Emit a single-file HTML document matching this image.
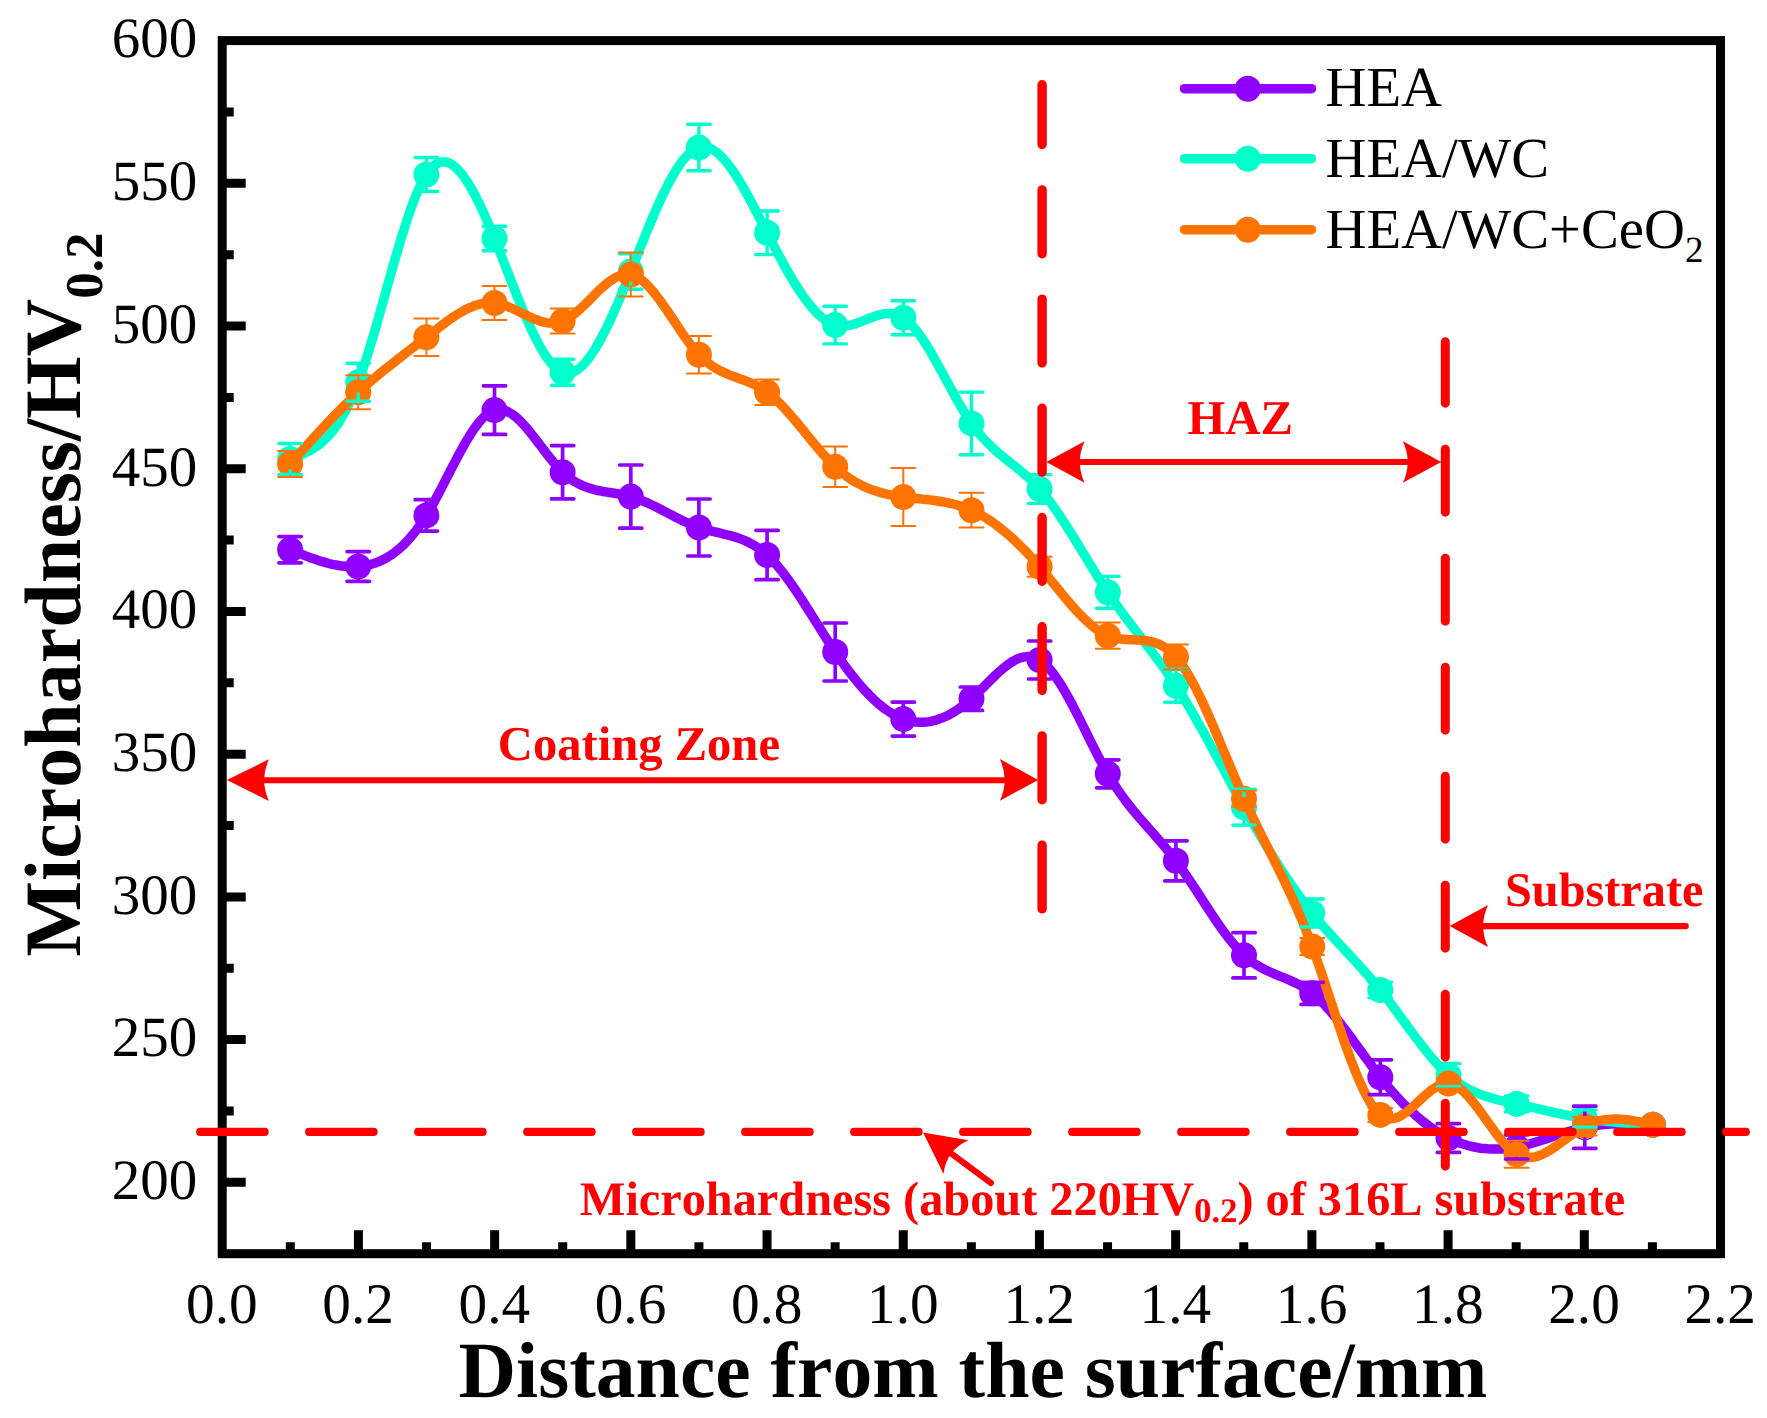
<!DOCTYPE html>
<html lang="en">
<head>
<meta charset="utf-8">
<title>Microhardness vs distance from the surface</title>
<style>
html,body{margin:0;padding:0;background:#fff;}
text{font-kerning:none;font-variant-ligatures:none;text-rendering:geometricPrecision;}
body{width:1767px;height:1418px;position:relative;overflow:hidden;font-family:"Liberation Serif",serif;}
</style>
</head>
<body>
<svg width="1767" height="1418" viewBox="0 0 1767 1418" style="position:absolute;left:0;top:0;display:block">
<rect x="0" y="0" width="1767" height="1418" fill="#fff"/>
<path d="M290.30 1253.7v-11.5M358.41 1253.7v-23.5M426.51 1253.7v-11.5M494.62 1253.7v-23.5M562.72 1253.7v-11.5M630.83 1253.7v-23.5M698.93 1253.7v-11.5M767.04 1253.7v-23.5M835.14 1253.7v-11.5M903.25 1253.7v-23.5M971.35 1253.7v-11.5M1039.45 1253.7v-23.5M1107.56 1253.7v-11.5M1175.66 1253.7v-23.5M1243.77 1253.7v-11.5M1311.87 1253.7v-23.5M1379.98 1253.7v-11.5M1448.08 1253.7v-23.5M1516.19 1253.7v-11.5M1584.29 1253.7v-23.5M1652.40 1253.7v-11.5M222.2 1182.34h23.5M222.2 1110.98h11.5M222.2 1039.62h23.5M222.2 968.26h11.5M222.2 896.91h23.5M222.2 825.55h11.5M222.2 754.19h23.5M222.2 682.83h11.5M222.2 611.47h23.5M222.2 540.11h11.5M222.2 468.75h23.5M222.2 397.39h11.5M222.2 326.04h23.5M222.2 254.68h11.5M222.2 183.32h23.5M222.2 111.96h11.5" stroke="#000" stroke-width="9" fill="none"/>
<polyline points="290.1,549.7 293.3,551.0 296.6,552.3 299.8,553.6 303.1,554.9 306.3,556.1 309.6,557.4 312.8,558.5 316.0,559.6 319.3,560.7 322.5,561.7 325.8,562.6 329.0,563.5 332.3,564.3 335.5,564.9 338.8,565.5 342.0,566.0 345.3,566.3 348.5,566.6 351.7,566.7 355.0,566.7 358.2,566.5 361.5,566.2 364.7,565.7 368.0,565.1 371.2,564.3 374.5,563.3 377.7,562.1 380.9,560.7 384.2,559.1 387.4,557.3 390.7,555.3 393.9,553.0 397.2,550.5 400.4,547.7 403.7,544.7 406.9,541.4 410.1,537.8 413.4,533.9 416.6,529.8 419.9,525.3 423.1,520.5 426.4,515.4 429.6,510.0 432.9,504.3 436.1,498.3 439.3,492.2 442.6,485.9 445.8,479.6 449.1,473.2 452.3,466.9 455.6,460.7 458.8,454.5 462.1,448.6 465.3,442.9 468.6,437.4 471.8,432.3 475.0,427.6 478.3,423.3 481.5,419.5 484.8,416.2 488.0,413.5 491.3,411.5 494.5,410.1 497.8,409.5 501.0,409.5 504.2,410.2 507.5,411.5 510.7,413.3 514.0,415.5 517.2,418.2 520.5,421.3 523.7,424.7 527.0,428.4 530.2,432.3 533.4,436.4 536.7,440.6 539.9,444.9 543.2,449.1 546.4,453.4 549.7,457.5 552.9,461.5 556.2,465.4 559.4,468.9 562.7,472.2 565.9,475.1 569.1,477.8 572.4,480.1 575.6,482.1 578.9,483.9 582.1,485.4 585.4,486.8 588.6,487.9 591.9,488.9 595.1,489.8 598.3,490.5 601.6,491.2 604.8,491.7 608.1,492.3 611.3,492.8 614.6,493.3 617.8,493.8 621.1,494.4 624.3,495.0 627.5,495.7 630.8,496.6 634.0,497.6 637.3,498.7 640.5,499.9 643.8,501.3 647.0,502.7 650.3,504.2 653.5,505.7 656.7,507.3 660.0,509.0 663.2,510.7 666.5,512.4 669.7,514.1 673.0,515.8 676.2,517.4 679.5,519.1 682.7,520.7 686.0,522.2 689.2,523.7 692.4,525.0 695.7,526.3 698.9,527.5 702.2,528.6 705.4,529.5 708.7,530.4 711.9,531.2 715.2,532.0 718.4,532.7 721.6,533.5 724.9,534.3 728.1,535.1 731.4,535.9 734.6,536.9 737.9,537.9 741.1,539.1 744.4,540.4 747.6,541.8 750.8,543.5 754.1,545.3 757.3,547.4 760.6,549.6 763.8,552.2 767.1,555.0 770.3,558.1 773.6,561.5 776.8,565.1 780.0,569.0 783.3,573.1 786.5,577.4 789.8,581.9 793.0,586.5 796.3,591.3 799.5,596.1 802.8,601.1 806.0,606.2 809.3,611.3 812.5,616.5 815.7,621.6 819.0,626.8 822.2,632.0 825.5,637.1 828.7,642.1 832.0,647.1 835.2,652.0 838.5,656.8 841.7,661.4 844.9,665.9 848.2,670.3 851.4,674.5 854.7,678.6 857.9,682.5 861.2,686.3 864.4,690.0 867.7,693.4 870.9,696.7 874.1,699.8 877.4,702.8 880.6,705.5 883.9,708.1 887.1,710.4 890.4,712.6 893.6,714.5 896.9,716.3 900.1,717.8 903.4,719.1 906.6,720.2 909.8,721.0 913.1,721.7 916.3,722.1 919.6,722.3 922.8,722.3 926.1,722.0 929.3,721.6 932.6,721.0 935.8,720.2 939.0,719.1 942.3,717.9 945.5,716.5 948.8,714.9 952.0,713.1 955.3,711.1 958.5,709.0 961.8,706.7 965.0,704.2 968.2,701.5 971.5,698.7 974.7,695.7 978.0,692.6 981.2,689.4 984.5,686.1 987.7,682.9 991.0,679.6 994.2,676.5 997.4,673.4 1000.7,670.5 1003.9,667.7 1007.2,665.2 1010.4,662.9 1013.7,660.9 1016.9,659.2 1020.2,657.9 1023.4,657.1 1026.7,656.6 1029.9,656.6 1033.1,657.2 1036.4,658.3 1039.6,660.0 1042.9,662.3 1046.1,665.2 1049.4,668.7 1052.6,672.6 1055.9,677.1 1059.1,681.9 1062.3,687.1 1065.6,692.6 1068.8,698.4 1072.1,704.4 1075.3,710.7 1078.6,717.0 1081.8,723.5 1085.1,730.1 1088.3,736.6 1091.5,743.1 1094.8,749.6 1098.0,755.9 1101.3,762.1 1104.5,768.1 1107.8,773.8 1111.0,779.2 1114.3,784.4 1117.5,789.3 1120.7,794.0 1124.0,798.5 1127.2,802.8 1130.5,807.0 1133.7,811.0 1137.0,814.9 1140.2,818.7 1143.5,822.4 1146.7,826.1 1150.0,829.8 1153.2,833.4 1156.4,837.1 1159.7,840.8 1162.9,844.6 1166.2,848.5 1169.4,852.4 1172.7,856.5 1175.9,860.8 1179.2,865.2 1182.4,869.8 1185.6,874.5 1188.9,879.3 1192.1,884.2 1195.4,889.1 1198.6,894.1 1201.9,899.1 1205.1,904.1 1208.4,909.1 1211.6,914.0 1214.8,918.8 1218.1,923.6 1221.3,928.2 1224.6,932.7 1227.8,937.0 1231.1,941.1 1234.3,945.0 1237.6,948.7 1240.8,952.1 1244.1,955.3 1247.3,958.2 1250.5,960.7 1253.8,963.1 1257.0,965.2 1260.3,967.1 1263.5,968.9 1266.8,970.5 1270.0,972.0 1273.3,973.4 1276.5,974.8 1279.7,976.1 1283.0,977.4 1286.2,978.7 1289.5,980.1 1292.7,981.6 1296.0,983.1 1299.2,984.8 1302.5,986.6 1305.7,988.6 1308.9,990.9 1312.2,993.3 1315.4,996.0 1318.7,998.9 1321.9,1002.1 1325.2,1005.5 1328.4,1009.0 1331.7,1012.8 1334.9,1016.6 1338.1,1020.7 1341.4,1024.8 1344.6,1029.0 1347.9,1033.4 1351.1,1037.7 1354.4,1042.2 1357.6,1046.6 1360.9,1051.1 1364.1,1055.6 1367.4,1060.0 1370.6,1064.4 1373.8,1068.8 1377.1,1073.0 1380.3,1077.2 1383.6,1081.3 1386.8,1085.2 1390.1,1089.1 1393.3,1092.8 1396.6,1096.4 1399.8,1099.9 1403.0,1103.3 1406.3,1106.5 1409.5,1109.7 1412.8,1112.7 1416.0,1115.6 1419.3,1118.4 1422.5,1121.1 1425.8,1123.6 1429.0,1126.0 1432.2,1128.3 1435.5,1130.5 1438.7,1132.6 1442.0,1134.5 1445.2,1136.3 1448.5,1138.0 1451.7,1139.6 1455.0,1141.0 1458.2,1142.3 1461.4,1143.5 1464.7,1144.5 1467.9,1145.5 1471.2,1146.3 1474.4,1147.0 1477.7,1147.7 1480.9,1148.2 1484.2,1148.5 1487.4,1148.8 1490.7,1149.0 1493.9,1149.1 1497.1,1149.1 1500.4,1149.0 1503.6,1148.8 1506.9,1148.5 1510.1,1148.1 1513.4,1147.6 1516.6,1147.0 1519.9,1146.3 1523.1,1145.6 1526.3,1144.8 1529.6,1143.9 1532.8,1143.0 1536.1,1142.0 1539.3,1141.0 1542.6,1140.0 1545.8,1138.9 1549.1,1137.9 1552.3,1136.8 1555.5,1135.7 1558.8,1134.6 1562.0,1133.6 1565.3,1132.5 1568.5,1131.5 1571.8,1130.6 1575.0,1129.7 1578.3,1128.8 1581.5,1128.0 1584.8,1127.3 1588.0,1126.7 1591.2,1126.1 1594.5,1125.6 1597.7,1125.2 1601.0,1124.8 1604.2,1124.5 1607.5,1124.3 1610.7,1124.1 1614.0,1124.0 1617.2,1123.9 1620.4,1123.8 1623.7,1123.8 1626.9,1123.8 1630.2,1123.9 1633.4,1124.0 1636.7,1124.1 1639.9,1124.2 1643.2,1124.3 1646.4,1124.5 1649.6,1124.6 1652.9,1124.8" fill="none" stroke="#9000ff" stroke-width="9.5" stroke-linejoin="round" stroke-linecap="round"/>
<circle cx="290.1" cy="549.7" r="13.0" fill="#9000ff"/>
<circle cx="358.2" cy="566.5" r="13.0" fill="#9000ff"/>
<circle cx="426.4" cy="515.4" r="13.0" fill="#9000ff"/>
<circle cx="494.5" cy="410.1" r="13.0" fill="#9000ff"/>
<circle cx="562.6" cy="472.2" r="13.0" fill="#9000ff"/>
<circle cx="630.8" cy="496.6" r="13.0" fill="#9000ff"/>
<circle cx="698.9" cy="527.5" r="13.0" fill="#9000ff"/>
<circle cx="767.1" cy="555.0" r="13.0" fill="#9000ff"/>
<circle cx="835.2" cy="652.0" r="13.0" fill="#9000ff"/>
<circle cx="903.3" cy="719.1" r="13.0" fill="#9000ff"/>
<circle cx="971.5" cy="698.7" r="13.0" fill="#9000ff"/>
<circle cx="1039.6" cy="660.0" r="13.0" fill="#9000ff"/>
<circle cx="1107.8" cy="773.8" r="13.0" fill="#9000ff"/>
<circle cx="1175.9" cy="860.8" r="13.0" fill="#9000ff"/>
<circle cx="1244.0" cy="955.3" r="13.0" fill="#9000ff"/>
<circle cx="1312.2" cy="993.3" r="13.0" fill="#9000ff"/>
<circle cx="1380.3" cy="1077.2" r="13.0" fill="#9000ff"/>
<circle cx="1448.5" cy="1138.0" r="13.0" fill="#9000ff"/>
<circle cx="1516.6" cy="1147.0" r="13.0" fill="#9000ff"/>
<circle cx="1584.8" cy="1127.3" r="13.0" fill="#9000ff"/>
<circle cx="1652.9" cy="1124.8" r="13.0" fill="#9000ff"/>
<polyline points="290.1,459.0 293.3,457.8 296.6,456.6 299.8,455.3 303.1,453.9 306.3,452.4 309.6,450.7 312.8,448.8 316.0,446.7 319.3,444.3 322.5,441.6 325.8,438.6 329.0,435.2 332.3,431.4 335.5,427.1 338.8,422.4 342.0,417.1 345.3,411.4 348.5,405.0 351.7,398.1 355.0,390.5 358.2,382.2 361.5,373.2 364.7,363.6 368.0,353.5 371.2,342.9 374.5,332.0 377.7,320.7 380.9,309.3 384.2,297.7 387.4,286.1 390.7,274.5 393.9,263.1 397.2,251.9 400.4,241.0 403.7,230.4 406.9,220.4 410.1,210.8 413.4,202.0 416.6,193.8 419.9,186.5 423.1,180.0 426.4,174.5 429.6,170.0 432.9,166.6 436.1,164.1 439.3,162.6 442.6,161.9 445.8,162.1 449.1,163.1 452.3,164.9 455.6,167.4 458.8,170.6 462.1,174.4 465.3,178.8 468.6,183.8 471.8,189.2 475.0,195.2 478.3,201.6 481.5,208.4 484.8,215.5 488.0,222.9 491.3,230.6 494.5,238.5 497.8,246.6 501.0,254.8 504.2,263.1 507.5,271.5 510.7,279.8 514.0,288.1 517.2,296.2 520.5,304.3 523.7,312.1 527.0,319.6 530.2,326.9 533.4,333.8 536.7,340.3 539.9,346.3 543.2,351.9 546.4,356.9 549.7,361.4 552.9,365.2 556.2,368.3 559.4,370.7 562.7,372.3 565.9,373.1 569.1,373.1 572.4,372.3 575.6,370.9 578.9,368.7 582.1,365.9 585.4,362.5 588.6,358.5 591.9,354.0 595.1,349.0 598.3,343.5 601.6,337.6 604.8,331.3 608.1,324.7 611.3,317.7 614.6,310.5 617.8,303.0 621.1,295.4 624.3,287.5 627.5,279.6 630.8,271.5 634.0,263.4 637.3,255.3 640.5,247.1 643.8,239.1 647.0,231.1 650.3,223.3 653.5,215.7 656.7,208.2 660.0,201.0 663.2,194.1 666.5,187.5 669.7,181.3 673.0,175.4 676.2,170.0 679.5,165.1 682.7,160.6 686.0,156.8 689.2,153.5 692.4,150.8 695.7,148.8 698.9,147.5 702.2,146.9 705.4,147.0 708.7,147.8 711.9,149.2 715.2,151.2 718.4,153.7 721.6,156.8 724.9,160.3 728.1,164.3 731.4,168.7 734.6,173.4 737.9,178.5 741.1,183.8 744.4,189.5 747.6,195.3 750.8,201.3 754.1,207.5 757.3,213.7 760.6,220.1 763.8,226.4 767.1,232.8 770.3,239.1 773.6,245.4 776.8,251.6 780.0,257.6 783.3,263.6 786.5,269.4 789.8,275.1 793.0,280.5 796.3,285.8 799.5,290.8 802.8,295.6 806.0,300.1 809.3,304.3 812.5,308.2 815.7,311.8 819.0,315.0 822.2,317.8 825.5,320.3 828.7,322.3 832.0,323.9 835.2,325.1 838.5,325.8 841.7,326.1 844.9,325.9 848.2,325.5 851.4,324.8 854.7,323.9 857.9,322.8 861.2,321.6 864.4,320.3 867.7,319.0 870.9,317.7 874.1,316.5 877.4,315.4 880.6,314.6 883.9,313.9 887.1,313.5 890.4,313.5 893.6,313.9 896.9,314.7 900.1,316.0 903.4,317.8 906.6,320.2 909.8,323.1 913.1,326.6 916.3,330.5 919.6,334.8 922.8,339.5 926.1,344.5 929.3,349.8 932.6,355.3 935.8,361.0 939.0,366.8 942.3,372.8 945.5,378.8 948.8,384.8 952.0,390.7 955.3,396.6 958.5,402.4 961.8,408.0 965.0,413.4 968.2,418.6 971.5,423.4 974.7,427.9 978.0,432.1 981.2,436.0 984.5,439.6 987.7,443.0 991.0,446.2 994.2,449.3 997.4,452.2 1000.7,454.9 1003.9,457.6 1007.2,460.2 1010.4,462.8 1013.7,465.3 1016.9,467.9 1020.2,470.6 1023.4,473.3 1026.7,476.1 1029.9,479.0 1033.1,482.2 1036.4,485.5 1039.6,489.0 1042.9,492.8 1046.1,496.8 1049.4,501.0 1052.6,505.4 1055.9,510.0 1059.1,514.7 1062.3,519.6 1065.6,524.6 1068.8,529.7 1072.1,534.8 1075.3,540.1 1078.6,545.4 1081.8,550.7 1085.1,556.1 1088.3,561.4 1091.5,566.7 1094.8,572.0 1098.0,577.2 1101.3,582.3 1104.5,587.4 1107.8,592.3 1111.0,597.1 1114.3,601.8 1117.5,606.4 1120.7,610.8 1124.0,615.3 1127.2,619.6 1130.5,623.9 1133.7,628.1 1137.0,632.3 1140.2,636.6 1143.5,640.8 1146.7,645.0 1150.0,649.2 1153.2,653.5 1156.4,657.8 1159.7,662.3 1162.9,666.7 1166.2,671.3 1169.4,676.0 1172.7,680.8 1175.9,685.7 1179.2,690.8 1182.4,696.0 1185.6,701.3 1188.9,706.7 1192.1,712.3 1195.4,717.9 1198.6,723.6 1201.9,729.4 1205.1,735.3 1208.4,741.2 1211.6,747.2 1214.8,753.2 1218.1,759.2 1221.3,765.3 1224.6,771.3 1227.8,777.4 1231.1,783.4 1234.3,789.4 1237.6,795.4 1240.8,801.3 1244.1,807.2 1247.3,813.0 1250.5,818.8 1253.8,824.5 1257.0,830.1 1260.3,835.7 1263.5,841.1 1266.8,846.5 1270.0,851.9 1273.3,857.1 1276.5,862.3 1279.7,867.4 1283.0,872.4 1286.2,877.3 1289.5,882.1 1292.7,886.8 1296.0,891.4 1299.2,895.9 1302.5,900.4 1305.7,904.7 1308.9,908.9 1312.2,913.0 1315.4,917.0 1318.7,920.9 1321.9,924.7 1325.2,928.5 1328.4,932.1 1331.7,935.7 1334.9,939.3 1338.1,942.8 1341.4,946.3 1344.6,949.8 1347.9,953.3 1351.1,956.8 1354.4,960.3 1357.6,963.8 1360.9,967.4 1364.1,971.0 1367.4,974.6 1370.6,978.4 1373.8,982.2 1377.1,986.1 1380.3,990.1 1383.6,994.2 1386.8,998.4 1390.1,1002.7 1393.3,1007.0 1396.6,1011.4 1399.8,1015.9 1403.0,1020.3 1406.3,1024.7 1409.5,1029.1 1412.8,1033.5 1416.0,1037.9 1419.3,1042.1 1422.5,1046.3 1425.8,1050.4 1429.0,1054.4 1432.2,1058.3 1435.5,1062.0 1438.7,1065.5 1442.0,1068.9 1445.2,1072.1 1448.5,1075.1 1451.7,1077.9 1455.0,1080.4 1458.2,1082.8 1461.4,1084.9 1464.7,1086.9 1467.9,1088.8 1471.2,1090.4 1474.4,1091.9 1477.7,1093.3 1480.9,1094.6 1484.2,1095.8 1487.4,1096.8 1490.7,1097.8 1493.9,1098.7 1497.1,1099.6 1500.4,1100.4 1503.6,1101.1 1506.9,1101.8 1510.1,1102.5 1513.4,1103.2 1516.6,1103.9 1519.9,1104.6 1523.1,1105.3 1526.3,1106.1 1529.6,1106.8 1532.8,1107.5 1536.1,1108.3 1539.3,1109.0 1542.6,1109.8 1545.8,1110.5 1549.1,1111.3 1552.3,1112.0 1555.5,1112.8 1558.8,1113.5 1562.0,1114.2 1565.3,1114.9 1568.5,1115.5 1571.8,1116.2 1575.0,1116.8 1578.3,1117.4 1581.5,1118.0 1584.8,1118.5 1588.0,1119.0 1591.2,1119.5 1594.5,1119.9 1597.7,1120.4 1601.0,1120.8 1604.2,1121.1 1607.5,1121.5 1610.7,1121.8 1614.0,1122.1 1617.2,1122.4 1620.4,1122.7 1623.7,1122.9 1626.9,1123.2 1630.2,1123.4 1633.4,1123.6 1636.7,1123.8 1639.9,1124.0 1643.2,1124.2 1646.4,1124.4 1649.6,1124.6 1652.9,1124.8" fill="none" stroke="#00ffcc" stroke-width="9.5" stroke-linejoin="round" stroke-linecap="round"/>
<circle cx="290.1" cy="459.0" r="13.0" fill="#00ffcc"/>
<circle cx="358.2" cy="382.2" r="13.0" fill="#00ffcc"/>
<circle cx="426.4" cy="174.5" r="13.0" fill="#00ffcc"/>
<circle cx="494.5" cy="238.5" r="13.0" fill="#00ffcc"/>
<circle cx="562.6" cy="372.3" r="13.0" fill="#00ffcc"/>
<circle cx="630.8" cy="271.5" r="13.0" fill="#00ffcc"/>
<circle cx="698.9" cy="147.5" r="13.0" fill="#00ffcc"/>
<circle cx="767.1" cy="232.8" r="13.0" fill="#00ffcc"/>
<circle cx="835.2" cy="325.1" r="13.0" fill="#00ffcc"/>
<circle cx="903.3" cy="317.8" r="13.0" fill="#00ffcc"/>
<circle cx="971.5" cy="423.4" r="13.0" fill="#00ffcc"/>
<circle cx="1039.6" cy="489.0" r="13.0" fill="#00ffcc"/>
<circle cx="1107.8" cy="592.3" r="13.0" fill="#00ffcc"/>
<circle cx="1175.9" cy="685.7" r="13.0" fill="#00ffcc"/>
<circle cx="1244.0" cy="807.2" r="13.0" fill="#00ffcc"/>
<circle cx="1312.2" cy="913.0" r="13.0" fill="#00ffcc"/>
<circle cx="1380.3" cy="990.1" r="13.0" fill="#00ffcc"/>
<circle cx="1448.5" cy="1075.1" r="13.0" fill="#00ffcc"/>
<circle cx="1516.6" cy="1103.9" r="13.0" fill="#00ffcc"/>
<circle cx="1584.8" cy="1118.5" r="13.0" fill="#00ffcc"/>
<circle cx="1652.9" cy="1124.8" r="13.0" fill="#00ffcc"/>
<polyline points="290.1,464.0 293.3,460.4 296.6,456.7 299.8,453.1 303.1,449.5 306.3,445.9 309.6,442.3 312.8,438.8 316.0,435.2 319.3,431.7 322.5,428.2 325.8,424.7 329.0,421.3 332.3,417.9 335.5,414.5 338.8,411.2 342.0,407.9 345.3,404.7 348.5,401.5 351.7,398.4 355.0,395.3 358.2,392.3 361.5,389.3 364.7,386.5 368.0,383.6 371.2,380.8 374.5,378.1 377.7,375.4 380.9,372.7 384.2,370.1 387.4,367.5 390.7,364.9 393.9,362.4 397.2,359.8 400.4,357.3 403.7,354.8 406.9,352.3 410.1,349.8 413.4,347.3 416.6,344.8 419.9,342.3 423.1,339.8 426.4,337.3 429.6,334.8 432.9,332.2 436.1,329.7 439.3,327.2 442.6,324.7 445.8,322.3 449.1,319.9 452.3,317.7 455.6,315.5 458.8,313.5 462.1,311.6 465.3,309.8 468.6,308.2 471.8,306.8 475.0,305.5 478.3,304.5 481.5,303.7 484.8,303.1 488.0,302.8 491.3,302.8 494.5,303.0 497.8,303.5 501.0,304.3 504.2,305.3 507.5,306.5 510.7,307.8 514.0,309.3 517.2,310.8 520.5,312.4 523.7,314.0 527.0,315.6 530.2,317.1 533.4,318.6 536.7,319.8 539.9,321.0 543.2,321.9 546.4,322.6 549.7,323.0 552.9,323.0 556.2,322.8 559.4,322.2 562.7,321.1 565.9,319.6 569.1,317.7 572.4,315.5 575.6,312.9 578.9,310.1 582.1,307.1 585.4,304.0 588.6,300.8 591.9,297.6 595.1,294.3 598.3,291.1 601.6,288.1 604.8,285.2 608.1,282.5 611.3,280.2 614.6,278.1 617.8,276.4 621.1,275.2 624.3,274.4 627.5,274.2 630.8,274.5 634.0,275.5 637.3,277.0 640.5,279.1 643.8,281.7 647.0,284.8 650.3,288.2 653.5,292.0 656.7,296.1 660.0,300.4 663.2,305.0 666.5,309.7 669.7,314.5 673.0,319.3 676.2,324.2 679.5,329.1 682.7,333.8 686.0,338.5 689.2,342.9 692.4,347.1 695.7,351.1 698.9,354.7 702.2,358.0 705.4,360.9 708.7,363.5 711.9,365.8 715.2,367.9 718.4,369.8 721.6,371.4 724.9,372.9 728.1,374.3 731.4,375.6 734.6,376.8 737.9,378.0 741.1,379.2 744.4,380.4 747.6,381.7 750.8,383.0 754.1,384.5 757.3,386.1 760.6,387.9 763.8,389.9 767.1,392.2 770.3,394.7 773.6,397.5 776.8,400.5 780.0,403.7 783.3,407.0 786.5,410.6 789.8,414.2 793.0,418.0 796.3,421.9 799.5,425.8 802.8,429.8 806.0,433.8 809.3,437.7 812.5,441.7 815.7,445.6 819.0,449.5 822.2,453.2 825.5,456.8 828.7,460.3 832.0,463.7 835.2,466.8 838.5,469.7 841.7,472.5 844.9,475.0 848.2,477.4 851.4,479.6 854.7,481.6 857.9,483.4 861.2,485.1 864.4,486.7 867.7,488.1 870.9,489.4 874.1,490.5 877.4,491.6 880.6,492.6 883.9,493.4 887.1,494.2 890.4,494.9 893.6,495.5 896.9,496.0 900.1,496.5 903.4,497.0 906.6,497.4 909.8,497.8 913.1,498.2 916.3,498.5 919.6,498.8 922.8,499.2 926.1,499.5 929.3,499.9 932.6,500.3 935.8,500.7 939.0,501.2 942.3,501.7 945.5,502.3 948.8,503.0 952.0,503.7 955.3,504.5 958.5,505.4 961.8,506.5 965.0,507.6 968.2,508.8 971.5,510.2 974.7,511.7 978.0,513.3 981.2,515.1 984.5,517.0 987.7,519.0 991.0,521.2 994.2,523.5 997.4,525.9 1000.7,528.4 1003.9,531.0 1007.2,533.7 1010.4,536.6 1013.7,539.5 1016.9,542.6 1020.2,545.8 1023.4,549.0 1026.7,552.4 1029.9,555.9 1033.1,559.4 1036.4,563.1 1039.6,566.8 1042.9,570.6 1046.1,574.5 1049.4,578.5 1052.6,582.4 1055.9,586.4 1059.1,590.4 1062.3,594.3 1065.6,598.2 1068.8,602.0 1072.1,605.8 1075.3,609.4 1078.6,612.9 1081.8,616.3 1085.1,619.5 1088.3,622.5 1091.5,625.3 1094.8,627.9 1098.0,630.3 1101.3,632.4 1104.5,634.2 1107.8,635.7 1111.0,636.9 1114.3,637.8 1117.5,638.5 1120.7,639.0 1124.0,639.3 1127.2,639.6 1130.5,639.7 1133.7,639.8 1137.0,640.0 1140.2,640.1 1143.5,640.4 1146.7,640.8 1150.0,641.4 1153.2,642.1 1156.4,643.2 1159.7,644.5 1162.9,646.2 1166.2,648.2 1169.4,650.7 1172.7,653.6 1175.9,657.0 1179.2,660.9 1182.4,665.4 1185.6,670.3 1188.9,675.7 1192.1,681.4 1195.4,687.5 1198.6,694.0 1201.9,700.7 1205.1,707.7 1208.4,714.9 1211.6,722.3 1214.8,729.9 1218.1,737.5 1221.3,745.3 1224.6,753.0 1227.8,760.8 1231.1,768.6 1234.3,776.3 1237.6,783.9 1240.8,791.4 1244.1,798.7 1247.3,805.8 1250.5,812.7 1253.8,819.5 1257.0,826.2 1260.3,832.8 1263.5,839.3 1266.8,845.7 1270.0,852.1 1273.3,858.6 1276.5,865.1 1279.7,871.6 1283.0,878.2 1286.2,885.0 1289.5,891.9 1292.7,899.0 1296.0,906.2 1299.2,913.7 1302.5,921.5 1305.7,929.5 1308.9,937.8 1312.2,946.5 1315.4,955.5 1318.7,964.8 1321.9,974.3 1325.2,984.1 1328.4,993.9 1331.7,1003.7 1334.9,1013.6 1338.1,1023.4 1341.4,1033.0 1344.6,1042.4 1347.9,1051.6 1351.1,1060.4 1354.4,1068.9 1357.6,1076.9 1360.9,1084.3 1364.1,1091.2 1367.4,1097.5 1370.6,1103.1 1373.8,1107.9 1377.1,1111.8 1380.3,1114.9 1383.6,1117.1 1386.8,1118.3 1390.1,1118.8 1393.3,1118.6 1396.6,1117.7 1399.8,1116.3 1403.0,1114.4 1406.3,1112.2 1409.5,1109.6 1412.8,1106.8 1416.0,1103.8 1419.3,1100.8 1422.5,1097.8 1425.8,1094.8 1429.0,1092.1 1432.2,1089.5 1435.5,1087.4 1438.7,1085.6 1442.0,1084.3 1445.2,1083.6 1448.5,1083.5 1451.7,1084.1 1455.0,1085.4 1458.2,1087.4 1461.4,1089.8 1464.7,1092.7 1467.9,1096.1 1471.2,1099.8 1474.4,1103.8 1477.7,1108.0 1480.9,1112.4 1484.2,1117.0 1487.4,1121.5 1490.7,1126.1 1493.9,1130.5 1497.1,1134.8 1500.4,1139.0 1503.6,1142.8 1506.9,1146.3 1510.1,1149.5 1513.4,1152.1 1516.6,1154.3 1519.9,1155.9 1523.1,1157.0 1526.3,1157.5 1529.6,1157.6 1532.8,1157.3 1536.1,1156.6 1539.3,1155.6 1542.6,1154.2 1545.8,1152.6 1549.1,1150.7 1552.3,1148.7 1555.5,1146.5 1558.8,1144.2 1562.0,1141.8 1565.3,1139.4 1568.5,1137.0 1571.8,1134.6 1575.0,1132.3 1578.3,1130.1 1581.5,1128.1 1584.8,1126.3 1588.0,1124.7 1591.2,1123.3 1594.5,1122.2 1597.7,1121.2 1601.0,1120.4 1604.2,1119.8 1607.5,1119.4 1610.7,1119.2 1614.0,1119.0 1617.2,1119.0 1620.4,1119.2 1623.7,1119.4 1626.9,1119.8 1630.2,1120.2 1633.4,1120.7 1636.7,1121.3 1639.9,1121.9 1643.2,1122.6 1646.4,1123.3 1649.6,1124.1 1652.9,1124.8" fill="none" stroke="#ff7400" stroke-width="9.5" stroke-linejoin="round" stroke-linecap="round"/>
<circle cx="290.1" cy="464.0" r="13.0" fill="#ff7400"/>
<circle cx="358.2" cy="392.3" r="13.0" fill="#ff7400"/>
<circle cx="426.4" cy="337.3" r="13.0" fill="#ff7400"/>
<circle cx="494.5" cy="303.0" r="13.0" fill="#ff7400"/>
<circle cx="562.6" cy="321.1" r="13.0" fill="#ff7400"/>
<circle cx="630.8" cy="274.5" r="13.0" fill="#ff7400"/>
<circle cx="698.9" cy="354.7" r="13.0" fill="#ff7400"/>
<circle cx="767.1" cy="392.2" r="13.0" fill="#ff7400"/>
<circle cx="835.2" cy="466.8" r="13.0" fill="#ff7400"/>
<circle cx="903.3" cy="497.0" r="13.0" fill="#ff7400"/>
<circle cx="971.5" cy="510.2" r="13.0" fill="#ff7400"/>
<circle cx="1039.6" cy="566.8" r="13.0" fill="#ff7400"/>
<circle cx="1107.8" cy="635.7" r="13.0" fill="#ff7400"/>
<circle cx="1175.9" cy="657.0" r="13.0" fill="#ff7400"/>
<circle cx="1244.0" cy="798.7" r="13.0" fill="#ff7400"/>
<circle cx="1312.2" cy="946.5" r="13.0" fill="#ff7400"/>
<circle cx="1380.3" cy="1114.9" r="13.0" fill="#ff7400"/>
<circle cx="1448.5" cy="1083.5" r="13.0" fill="#ff7400"/>
<circle cx="1516.6" cy="1154.3" r="13.0" fill="#ff7400"/>
<circle cx="1584.8" cy="1126.3" r="13.0" fill="#ff7400"/>
<circle cx="1652.9" cy="1124.8" r="13.0" fill="#ff7400"/>
<g stroke="#9000ff" stroke-width="3.7" stroke-linecap="round" fill="none">
<path d="M278.9 536.6H301.2M290.1 538.2V536.6M278.9 562.8H301.2M290.1 561.2V562.8M347.1 551.6H369.4M358.2 555.0V551.6M347.1 581.4H369.4M358.2 578.0V581.4M415.2 499.7H437.5M426.4 503.9V499.7M415.2 531.1H437.5M426.4 526.9V531.1M483.4 385.8H505.7M494.5 398.6V385.8M483.4 434.4H505.7M494.5 421.6V434.4M551.5 445.6H573.8M562.6 460.7V445.6M551.5 498.8H573.8M562.6 483.7V498.8M619.6 465.0H641.9M630.8 485.1V465.0M619.6 528.2H641.9M630.8 508.1V528.2M687.8 499.0H710.1M698.9 516.0V499.0M687.8 556.0H710.1M698.9 539.0V556.0M755.9 530.3H778.2M767.1 543.5V530.3M755.9 579.7H778.2M767.1 566.5V579.7M824.1 623.0H846.4M835.2 640.5V623.0M824.1 681.0H846.4M835.2 663.5V681.0M892.2 702.1H914.5M903.3 707.6V702.1M892.2 736.1H914.5M903.3 730.6V736.1M960.3 687.0H982.6M971.5 687.2V687.0M960.3 710.4H982.6M971.5 710.2V710.4M1028.5 641.0H1050.8M1039.6 648.5V641.0M1028.5 679.0H1050.8M1039.6 671.5V679.0M1096.6 759.8H1118.9M1107.8 762.3V759.8M1096.6 787.8H1118.9M1107.8 785.3V787.8M1164.8 840.8H1187.1M1175.9 849.3V840.8M1164.8 880.8H1187.1M1175.9 872.3V880.8M1232.9 932.7H1255.2M1244.0 943.8V932.7M1232.9 977.9H1255.2M1244.0 966.8V977.9M1301.0 982.3H1323.3M1301.0 1004.3H1323.3M1369.2 1059.8H1391.5M1380.3 1065.7V1059.8M1369.2 1094.6H1391.5M1380.3 1088.7V1094.6M1437.3 1123.6H1459.6M1448.5 1126.5V1123.6M1437.3 1152.4H1459.6M1448.5 1149.5V1152.4M1505.5 1135.0H1527.8M1516.6 1135.5V1135.0M1505.5 1159.0H1527.8M1516.6 1158.5V1159.0M1573.6 1106.2H1595.9M1584.8 1115.8V1106.2M1573.6 1148.4H1595.9M1584.8 1138.8V1148.4"/>
</g>
<g stroke="#00ffcc" stroke-width="3.4" stroke-linecap="round" fill="none">
<path d="M278.8 443.5H301.4M290.1 447.5V443.5M278.8 474.5H301.4M290.1 470.5V474.5M346.9 363.2H369.5M358.2 370.7V363.2M346.9 401.2H369.5M358.2 393.7V401.2M415.1 157.5H437.7M426.4 163.0V157.5M415.1 191.5H437.7M426.4 186.0V191.5M483.2 226.3H505.8M494.5 227.0V226.3M483.2 250.7H505.8M494.5 250.0V250.7M551.4 359.3H573.9M562.6 360.8V359.3M551.4 385.3H573.9M562.6 383.8V385.3M619.5 253.7H642.1M630.8 260.0V253.7M619.5 289.3H642.1M630.8 283.0V289.3M687.6 124.2H710.2M698.9 136.0V124.2M687.6 170.8H710.2M698.9 159.0V170.8M755.8 211.0H778.4M767.1 221.3V211.0M755.8 254.6H778.4M767.1 244.3V254.6M823.9 306.3H846.5M835.2 313.6V306.3M823.9 343.9H846.5M835.2 336.6V343.9M892.0 300.8H914.6M903.3 306.3V300.8M892.0 334.8H914.6M903.3 329.3V334.8M960.2 392.1H982.8M971.5 411.9V392.1M960.2 454.7H982.8M971.5 434.9V454.7M1028.3 474.6H1050.9M1039.6 477.5V474.6M1028.3 503.4H1050.9M1039.6 500.5V503.4M1096.5 576.4H1119.1M1107.8 580.8V576.4M1096.5 608.2H1119.1M1107.8 603.8V608.2M1164.6 669.2H1187.2M1175.9 674.2V669.2M1164.6 702.2H1187.2M1175.9 697.2V702.2M1232.8 789.3H1255.3M1244.0 795.7V789.3M1232.8 825.1H1255.3M1244.0 818.7V825.1M1300.9 899.0H1323.5M1312.2 901.5V899.0M1300.9 927.0H1323.5M1312.2 924.5V927.0M1369.0 982.3H1391.6M1369.0 997.9H1391.6M1437.2 1063.4H1459.8M1448.5 1063.6V1063.4M1437.2 1086.8H1459.8M1448.5 1086.6V1086.8M1505.3 1095.9H1527.9M1505.3 1111.9H1527.9M1573.5 1109.9H1596.0M1573.5 1127.1H1596.0"/>
</g>
<g stroke="#ff7400" stroke-width="2.0" stroke-linecap="round" fill="none">
<path d="M278.1 451.0H302.1M290.1 452.5V451.0M278.1 477.0H302.1M290.1 475.5V477.0M346.2 375.3H370.2M358.2 380.8V375.3M346.2 409.3H370.2M358.2 403.8V409.3M414.4 318.6H438.4M426.4 325.8V318.6M414.4 356.0H438.4M426.4 348.8V356.0M482.5 286.0H506.5M494.5 291.5V286.0M482.5 320.0H506.5M494.5 314.5V320.0M550.6 308.6H574.6M562.6 309.6V308.6M550.6 333.6H574.6M562.6 332.6V333.6M618.8 252.5H642.8M630.8 263.0V252.5M618.8 296.5H642.8M630.8 286.0V296.5M686.9 336.0H710.9M698.9 343.2V336.0M686.9 373.4H710.9M698.9 366.2V373.4M755.1 379.5H779.1M767.1 380.7V379.5M755.1 404.9H779.1M767.1 403.7V404.9M823.2 446.6H847.2M835.2 455.3V446.6M823.2 487.0H847.2M835.2 478.3V487.0M891.3 468.1H915.3M903.3 485.5V468.1M891.3 525.9H915.3M903.3 508.5V525.9M959.5 492.8H983.5M971.5 498.7V492.8M959.5 527.6H983.5M971.5 521.7V527.6M1027.6 556.8H1051.6M1027.6 576.8H1051.6M1095.8 622.6H1119.8M1107.8 624.2V622.6M1095.8 648.8H1119.8M1107.8 647.2V648.8M1163.9 644.5H1187.9M1175.9 645.5V644.5M1163.9 669.5H1187.9M1175.9 668.5V669.5M1232.0 790.7H1256.0M1232.0 806.7H1256.0M1300.2 938.0H1324.2M1300.2 955.0H1324.2M1368.3 1107.9H1392.3M1368.3 1121.9H1392.3M1436.5 1078.5H1460.5M1436.5 1088.5H1460.5M1504.6 1140.8H1528.6M1516.6 1142.8V1140.8M1504.6 1167.8H1528.6M1516.6 1165.8V1167.8M1572.8 1117.0H1596.8M1572.8 1135.6H1596.8"/>
</g>
<rect x="222.2" y="40.6" width="1498.3" height="1213.1000000000001" fill="none" stroke="#000" stroke-width="9"/>
<path d="M1042.1 908.9L1042.1 84.8" stroke="#ff0000" stroke-width="9.4" stroke-linecap="round" stroke-dasharray="63.80 45.40" fill="none"/>
<path d="M1445.3 1166.15L1445.3 341.65" stroke="#ff0000" stroke-width="9.0" stroke-linecap="round" stroke-dasharray="62.90 46.10" fill="none"/>
<path d="M200.15 1131.9L1745.8500000000001 1131.9" stroke="#ff0000" stroke-width="8.1" stroke-linecap="round" stroke-dasharray="64.50 44.50" fill="none"/>
<path d="M1076.8 462.0L1411.0 462.0" stroke="#ff0000" stroke-width="6.2" fill="none"/>
<path transform="translate(1046.3 462.0) rotate(180)" d="M0 0L-38.3 -20.8Q-28.699999999999996 0 -38.3 20.8Z" fill="#ff0000"/>
<path transform="translate(1441.2 462.0) rotate(0)" d="M0 0L-38.3 -20.8Q-28.699999999999996 0 -38.3 20.8Z" fill="#ff0000"/>
<path d="M256.7 780.2L1007.8 780.2" stroke="#ff0000" stroke-width="6.0" fill="none"/>
<path transform="translate(226.9 780.1) rotate(180)" d="M0 0L-42 -20.8Q-32.4 0 -42 20.8Z" fill="#ff0000"/>
<path transform="translate(1038.2 779.9) rotate(0)" d="M0 0L-38.3 -20.8Q-28.699999999999996 0 -38.3 20.8Z" fill="#ff0000"/>
<path d="M1479.6 926.1H1685.6" stroke="#ff0000" stroke-width="6.4" stroke-linecap="round" fill="none"/>
<path transform="translate(1449.7 926.1) rotate(180)" d="M0 0L-38.3 -21.0Q-28.699999999999996 0 -38.3 21.0Z" fill="#ff0000"/>
<path d="M991.0 1183.0L947.2 1150.5" stroke="#ff0000" stroke-width="6" stroke-linecap="round" fill="none"/>
<path transform="translate(923.1 1132.6) rotate(-143.41468170030655)" d="M0 0L-41 -21.0Q-29 0 -41 21.0Z" fill="#ff0000"/>
<path d="M1184.5 88.7H1311.5" stroke="#9000ff" stroke-width="9.5" stroke-linecap="round"/>
<circle cx="1247.8" cy="88.7" r="13" fill="#9000ff"/>
<path d="M1184.5 158.7H1311.5" stroke="#00ffcc" stroke-width="9.5" stroke-linecap="round"/>
<circle cx="1247.8" cy="158.7" r="13" fill="#00ffcc"/>
<path d="M1184.5 229.7H1311.5" stroke="#ff7400" stroke-width="9.5" stroke-linecap="round"/>
<circle cx="1247.8" cy="229.7" r="13" fill="#ff7400"/>
<g font-family="'Liberation Serif',serif" fill="#000">
<text x="197.2" y="1199.1" font-size="57" text-anchor="end">200</text>
<text x="197.2" y="1056.4" font-size="57" text-anchor="end">250</text>
<text x="197.2" y="913.7" font-size="57" text-anchor="end">300</text>
<text x="197.2" y="771.0" font-size="57" text-anchor="end">350</text>
<text x="197.2" y="628.3" font-size="57" text-anchor="end">400</text>
<text x="197.2" y="485.6" font-size="57" text-anchor="end">450</text>
<text x="197.2" y="342.8" font-size="57" text-anchor="end">500</text>
<text x="197.2" y="200.1" font-size="57" text-anchor="end">550</text>
<text x="197.2" y="57.4" font-size="57" text-anchor="end">600</text>
<text x="221.9" y="1322.6" font-size="57.3" text-anchor="middle">0.0</text>
<text x="358.1" y="1322.6" font-size="57.3" text-anchor="middle">0.2</text>
<text x="494.3" y="1322.6" font-size="57.3" text-anchor="middle">0.4</text>
<text x="630.5" y="1322.6" font-size="57.3" text-anchor="middle">0.6</text>
<text x="766.7" y="1322.6" font-size="57.3" text-anchor="middle">0.8</text>
<text x="902.9" y="1322.6" font-size="57.3" text-anchor="middle">1.0</text>
<text x="1039.2" y="1322.6" font-size="57.3" text-anchor="middle">1.2</text>
<text x="1175.4" y="1322.6" font-size="57.3" text-anchor="middle">1.4</text>
<text x="1311.6" y="1322.6" font-size="57.3" text-anchor="middle">1.6</text>
<text x="1447.8" y="1322.6" font-size="57.3" text-anchor="middle">1.8</text>
<text x="1584.0" y="1322.6" font-size="57.3" text-anchor="middle">2.0</text>
<text x="1720.2" y="1322.6" font-size="57.3" text-anchor="middle">2.2</text>
<text x="1325.5" y="106.4" font-size="56.7">HEA</text>
<text x="1325.5" y="176.8" font-size="56.7">HEA/WC</text>
<text x="1325.5" y="248.1" font-size="56.7">HEA/WC+CeO<tspan font-size="37" dy="14.3">2</tspan></text>
<text x="973" y="1397" font-size="79.7" font-weight="bold" text-anchor="middle">Distance from the surface/mm</text>
<text transform="translate(79.6 956.5) rotate(-90)" font-size="80" font-weight="bold">Microhardness/HV<tspan font-size="53" dy="22">0.2</tspan></text>
</g>
<g font-family="'Liberation Serif',serif" fill="#ff0000" font-weight="bold" font-size="47.5">
<text x="1240.2" y="434" text-anchor="middle" font-size="48.7">HAZ</text>
<text x="638.9" y="760.1" text-anchor="middle" font-size="48.6">Coating Zone</text>
<text x="1604.2" y="905.7" text-anchor="middle" font-size="48.3">Substrate</text>
<text x="579.8" y="1214.9" font-size="48.3">Microhardness (about 220HV<tspan font-size="34.5" dy="6.6">0.2</tspan><tspan dy="-6.6">) of 316L substrate</tspan></text>
</g>
</svg>
</body>
</html>
